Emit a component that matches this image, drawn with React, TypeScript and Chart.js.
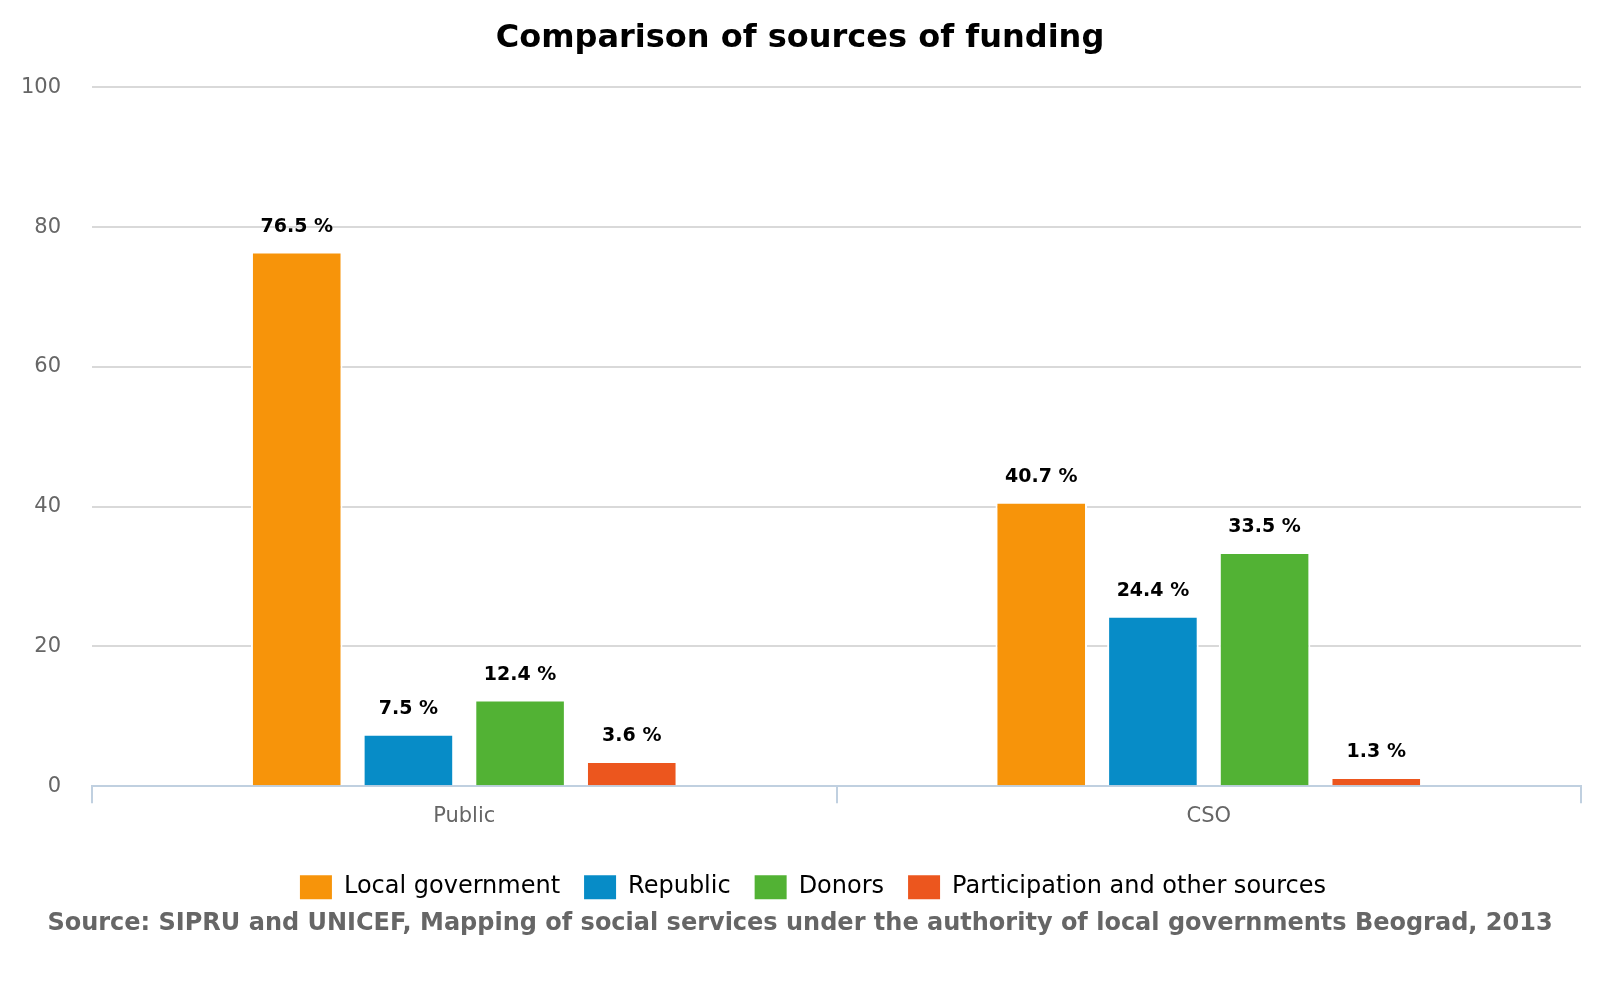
import React, { useEffect, useRef } from "react";
import { Chart, registerables } from "chart.js";

Chart.register(...registerables);

const categories = ["Public", "CSO"];
const seriesNames = ["Local government", "Republic", "Donors", "Participation and other sources"];
const localGovernment = [76.5, 40.7];
const republic = [7.5, 24.4];
const donors = [12.4, 33.5];
const participation = [3.6, 1.3];
const seriesColors = ["#f7940a", "#078cc7", "#52b234", "#ec561e"];
const yTicks = [0, 20, 40, 60, 80, 100];
const titleText = "Comparison of sources of funding";
const sourceText =
  "Source: SIPRU and UNICEF, Mapping of social services under the authority of local governments Beograd, 2013";

const FONT = '"DejaVu Sans", Verdana, sans-serif';

const dataLabelPlugin = {
  id: "dataLabels",
  afterDatasetsDraw(chart: any) {
    const ctx = chart.ctx;
    ctx.save();
    ctx.font = `bold 19px ${FONT}`;
    ctx.fillStyle = "#000";
    ctx.textAlign = "center";
    ctx.textBaseline = "alphabetic";
    chart.data.datasets.forEach((ds: any, i: number) => {
      const meta = chart.getDatasetMeta(i);
      meta.data.forEach((bar: any, j: number) => {
        const v = ds.data[j];
        ctx.fillText(v.toFixed(1) + " %", bar.x, bar.y - 20);
      });
    });
    ctx.restore();
  },
};

const legendShiftPlugin = {
  id: "legendShift",
  afterLayout(chart: any) {
    const lg = chart.legend;
    if (lg) {
      lg.left += 13;
      lg.right += 13;
    }
  },
};

export default function App() {
  const canvasRef = useRef<HTMLCanvasElement | null>(null);

  useEffect(() => {
    if (!canvasRef.current) return;
    const values = [localGovernment, republic, donors, participation];
    const chart = new Chart(canvasRef.current, {
      type: "bar",
      data: {
        labels: categories,
        datasets: seriesNames.map((name, i) => ({
          label: name,
          data: values[i],
          backgroundColor: seriesColors[i],
          borderColor: "#ffffff",
          borderWidth: 2,
          borderSkipped: "bottom",
          categoryPercentage: 0.6,
          barPercentage: 0.82,
        })),
      },
      options: {
        responsive: false,
        devicePixelRatio: 1,
        animation: false,
        layout: { padding: { top: 0, left: 19, right: 19, bottom: 62 } },
        scales: {
          x: {
            grid: {
              drawOnChartArea: false,
              drawTicks: true,
              tickLength: 17,
              color: "#c0d0e0",
              lineWidth: 2,
            },
            border: { display: true, color: "#c0d0e0", width: 2 },
            ticks: { color: "#666666", font: { family: FONT, size: 21 }, padding: 1 },
            afterFit(scale: any) {
              scale.height = 65;
            },
          },
          y: {
            min: 0,
            max: 100,
            afterBuildTicks(scale: any) {
              scale.ticks = yTicks.map((v) => ({ value: v }));
            },
            grid: { color: "#d9d9d9", lineWidth: 2, drawTicks: false },
            border: { display: false },
            ticks: { color: "#666666", font: { family: FONT, size: 21 }, padding: 31 },
            afterFit(scale: any) {
              scale.width = 73;
            },
          },
        },
        plugins: {
          title: {
            display: true,
            text: titleText,
            color: "#000000",
            font: { family: FONT, size: 32, weight: "bold" },
            padding: { top: 19, bottom: 30 },
          },
          subtitle: {
            display: true,
            position: "bottom",
            text: sourceText,
            color: "#666666",
            font: { family: FONT, size: 24, weight: "bold" },
            padding: { top: 0, bottom: 0 },
          },
          legend: {
            position: "bottom",
            labels: {
              boxWidth: 32,
              boxHeight: 24,
              padding: 24,
              color: "#000000",
              font: { family: FONT, size: 24 },
              generateLabels(c: any) {
                return Chart.defaults.plugins.legend.labels
                  .generateLabels(c)
                  .map((l: any) => ({ ...l, lineWidth: 0 }));
              },
            },
          },
          tooltip: { enabled: false },
        },
      },
      plugins: [dataLabelPlugin, legendShiftPlugin],
    });
    return () => chart.destroy();
  }, []);

  return (
    <div style={{ position: "fixed", left: 0, top: 0, width: 1600, height: 1000, background: "#fff" }}>
      <canvas ref={canvasRef} width={1600} height={1000} />
    </div>
  );
}
